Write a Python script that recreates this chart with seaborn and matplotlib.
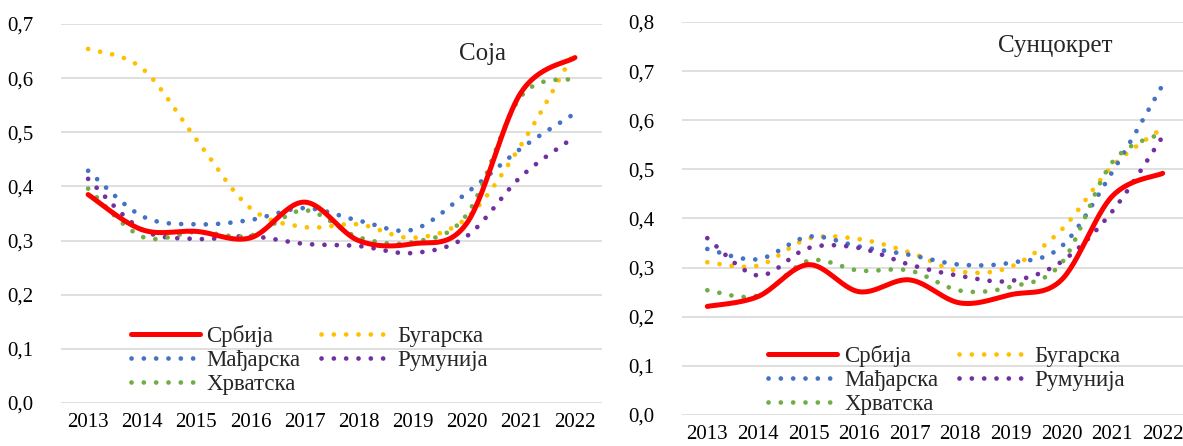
import seaborn as sns
import matplotlib.pyplot as plt
import numpy as np
from matplotlib.ticker import FuncFormatter
from matplotlib.lines import Line2D

# data
years = [2013, 2014, 2015, 2016, 2017, 2018, 2019, 2020, 2021, 2022]
countries = ['Србија', 'Бугарска', 'Мађарска', 'Румунија', 'Хрватска']
colors = ['#FF0000', '#FFC000', '#4472C4', '#7030A0', '#70AD47']

soja_srbija = [0.385, 0.320, 0.317, 0.305, 0.371, 0.300, 0.294, 0.332, 0.573, 0.638]
soja_bugarska = [0.654, 0.618, 0.487, 0.360, 0.325, 0.330, 0.305, 0.342, 0.476, 0.650]
soja_madjarska = [0.429, 0.345, 0.330, 0.338, 0.360, 0.337, 0.320, 0.388, 0.470, 0.535]
soja_rumunija = [0.414, 0.320, 0.303, 0.308, 0.294, 0.290, 0.277, 0.308, 0.418, 0.492]
soja_hrvatska = [0.396, 0.307, 0.316, 0.309, 0.356, 0.306, 0.297, 0.348, 0.566, 0.599]

sunc_srbija = [0.221, 0.241, 0.306, 0.251, 0.275, 0.228, 0.245, 0.275, 0.445, 0.492]
sunc_bugarska = [0.311, 0.304, 0.359, 0.358, 0.331, 0.292, 0.302, 0.377, 0.506, 0.584]
sunc_madjarska = [0.338, 0.317, 0.363, 0.343, 0.326, 0.306, 0.310, 0.343, 0.494, 0.672]
sunc_rumunija = [0.360, 0.284, 0.340, 0.340, 0.306, 0.283, 0.273, 0.312, 0.414, 0.567]
sunc_hrvatska = [0.254, 0.243, 0.314, 0.294, 0.294, 0.253, 0.261, 0.309, 0.514, 0.574]

soja = [soja_srbija, soja_bugarska, soja_madjarska, soja_rumunija, soja_hrvatska]
sunc = [sunc_srbija, sunc_bugarska, sunc_madjarska, sunc_rumunija, sunc_hrvatska]


def smooth(x, y, n=30):
    # Excel-style smoothed line (Catmull-Rom / Bezier through the points)
    p = np.column_stack([x, y]).astype(float)
    p = np.vstack([p[0], p, p[-1]])
    out = []
    t = np.linspace(0, 1, n)[:, None]
    for i in range(1, len(p) - 2):
        p0, p1, p2, p3 = p[i - 1], p[i], p[i + 1], p[i + 2]
        c1 = p1 + (p2 - p0) / 6
        c2 = p2 - (p3 - p1) / 6
        seg = ((1 - t) ** 3) * p1 + 3 * ((1 - t) ** 2) * t * c1 + 3 * (1 - t) * t ** 2 * c2 + t ** 3 * p2
        out.append(seg if i == 1 else seg[1:])
    out = np.vstack(out)
    return out[:, 0], out[:, 1]


sns.set_theme(style="white")
plt.rcParams['font.family'] = ['Liberation Serif', 'DejaVu Serif']

fig = plt.figure(figsize=(11.83, 4.46), dpi=100)
ax1 = fig.add_axes([0.0516, 0.0964, 0.4573, 0.8498])
ax2 = fig.add_axes([0.5765, 0.0695, 0.4277, 0.8812])

dotted = (0, (0.01, 2.6))


def draw(ax, series, ymax, title, title_xy, legend_anchor):
    for name, vals, col in zip(countries, series, colors):
        xs, ys = smooth(years, vals)
        if name == 'Србија':
            sns.lineplot(x=xs, y=ys, ax=ax, color=col, lw=3.6, sort=False, zorder=5)
        else:
            l = sns.lineplot(x=xs, y=ys, ax=ax, color=col, lw=3.4, sort=False, zorder=3)
            l.lines[-1].set_linestyle(dotted)
            l.lines[-1].set_dash_capstyle('round')
    ax.set_xlim(2012.5, 2022.5)
    ax.set_ylim(0, ymax)
    ax.set_yticks(np.arange(0, ymax + 0.001, 0.1))
    ax.set_xticks(years)
    ax.yaxis.set_major_formatter(FuncFormatter(lambda v, p: f"{v:.1f}".replace('.', ',')))
    ax.grid(axis='y', color='#D9D9D9', lw=1.2)
    ax.set_axisbelow(True)
    for s in ax.spines.values():
        s.set_visible(False)
    ax.tick_params(axis='both', length=0, labelsize=15, colors='black')
    ax.tick_params(axis='y', pad=20)
    ax.tick_params(axis='x', pad=7)
    ax.text(title_xy[0], title_xy[1], title, transform=ax.transAxes, fontsize=18, ha='left', va='center')
    handles = []
    for name, col in zip(countries, colors):
        if name == 'Србија':
            handles.append(Line2D([], [], color=col, lw=3.6, label=name))
        else:
            h = Line2D([], [], color=col, lw=3.4, label=name, linestyle=dotted)
            h.set_dash_capstyle('round')
            handles.append(h)
    order = [0, 2, 4, 1, 3]
    ax.legend([handles[i] for i in order], [countries[i] for i in order], ncol=2, frameon=False,
              fontsize=16.5, handlelength=3.0, handletextpad=0.3, columnspacing=0.9,
              labelspacing=0.12, loc='upper left', bbox_to_anchor=legend_anchor)


draw(ax1, soja, 0.7, 'Соја', (0.735, 0.92), (0.091, 0.259))
draw(ax2, sunc, 0.8, 'Сунцокрет', (0.625, 0.94), (0.13, 0.23))

plt.savefig('out.png', dpi=100)
